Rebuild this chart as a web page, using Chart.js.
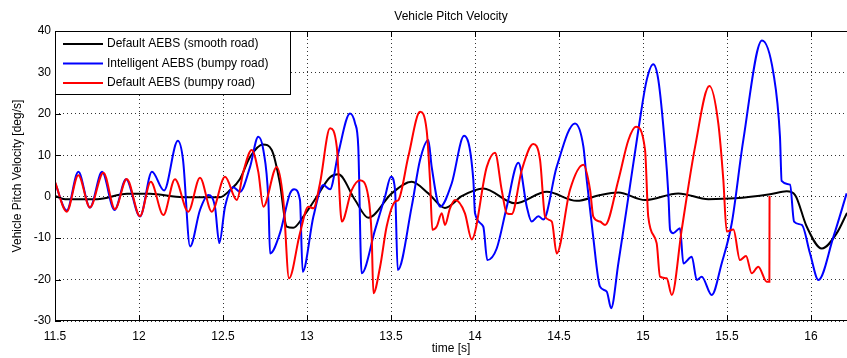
<!DOCTYPE html>
<html>
<head>
<meta charset="utf-8">
<script src="https://cdn.jsdelivr.net/npm/chart.js@4.4.0/dist/chart.umd.min.js"></script>
<style>
  html, body { margin: 0; padding: 0; background: #fff; }
  #wrap { width: 847px; height: 358px; position: relative; }
</style>
</head>
<body>
<div id="wrap"><canvas id="c" width="847" height="358"></canvas></div>
<script>
// Axis ticks
const xTicks = [11.5, 12, 12.5, 13, 13.5, 14, 14.5, 15, 15.5, 16];
const xTickLabels = ['11.5', '12', '12.5', '13', '13.5', '14', '14.5', '15', '15.5', '16'];
const yTicks = [-30, -20, -10, 0, 10, 20, 30, 40];
const yTickLabels = ['-30', '-20', '-10', '0', '10', '20', '30', '40'];

const seriesNames = ['Default AEBS (smooth road)', 'Intelligent AEBS (bumpy road)', 'Default AEBS (bumpy road)'];

// Default AEBS, smooth road: time [s] and pitch velocity [deg/s]
const smoothTime = [11.5, 11.56, 11.75, 11.929, 12.065, 12.262, 12.482, 12.542, 12.601, 12.661, 12.738, 12.79, 12.839, 12.879, 12.918, 12.978, 13.058, 13.137, 13.186, 13.286, 13.365, 13.504, 13.623, 13.722, 13.821, 13.923, 14.049, 14.238, 14.427, 14.605, 14.744, 14.853, 15.012, 15.21, 15.389, 15.548, 15.756, 15.855, 15.905, 15.974, 16.064, 16.153, 16.214];
const smoothRate = [0.2, -0.6, -0.6, 0.7, 0.7, -0.1, -0.1, 1.6, 4.3, 9.6, 12.6, 11.3, 3.2, -7.2, -7.5, -4.8, 0, 4.7, 5.4, -0.8, -5.1, 0.8, 3.6, 0.8, -2.7, 0.2, 2.0, -1.6, 1.2, -1.0, 0.4, 1.0, -0.8, 0.8, -0.6, -0.4, 0.6, 1.3, 0.4, -7.2, -12.5, -8.8, -3.9];

// Intelligent AEBS, bumpy road
const intelTime = [11.5, 11.57, 11.639, 11.708, 11.78, 11.854, 11.923, 12.006, 12.077, 12.149, 12.231, 12.262, 12.304, 12.363, 12.413, 12.452, 12.478, 12.512, 12.561, 12.601, 12.661, 12.71, 12.74, 12.77, 12.78, 12.839, 12.899, 12.923, 12.958, 12.974, 13.038, 13.097, 13.137, 13.186, 13.256, 13.286, 13.305, 13.325, 13.405, 13.464, 13.5, 13.524, 13.54, 13.623, 13.673, 13.722, 13.742, 13.792, 13.861, 13.935, 13.99, 14.0, 14.049, 14.073, 14.129, 14.189, 14.258, 14.308, 14.337, 14.377, 14.407, 14.486, 14.595, 14.645, 14.665, 14.702, 14.744, 14.784, 14.81, 14.853, 14.913, 14.972, 15.022, 15.061, 15.091, 15.131, 15.151, 15.161, 15.18, 15.22, 15.24, 15.29, 15.32, 15.349, 15.409, 15.468, 15.528, 15.597, 15.708, 15.776, 15.815, 15.825, 15.875, 15.899, 15.945, 15.994, 16.044, 16.133, 16.212];
const intelRate = [3.4, -3.3, 6.0, -2.6, 6.0, -3.2, 4.2, -4.8, 6.0, 1.5, 13.5, 8.9, -12.0, -3.2, 0.4, -2.4, -11.2, -2.4, 2.3, 1.2, 7.2, 14.5, 11.3, -0.8, -13.7, -8.8, 0.8, 1.8, -0.8, -18.1, -4.8, 2.8, 1.8, 10.5, 20.1, 17.7, 12.1, -18.5, -8.0, 0, 4.8, 1.6, -17.7, -2.4, 8.9, 13.7, 7.2, -2.4, 3.2, 14.7, 4.0, -4.0, -7.2, -15.3, -12.5, -2.4, 8.2, -2.4, -6.0, -4.7, -5.5, 7.2, 17.7, 12.1, 4.0, -9.2, -21.7, -22.9, -26.9, -16.1, 0, 16.1, 28.2, 32.0, 28.2, 12.1, 0.4, -8.0, -8.8, -7.6, -16.1, -14.5, -20.1, -19.3, -23.7, -16.1, -6.4, 13.7, 37.7, 29.8, 14.5, 3.8, 2.9, -6.0, -6.8, -13.7, -20.1, -9.7, 0.8];

// Default AEBS, bumpy road
const bumpyTime = [11.5, 11.57, 11.639, 11.708, 11.788, 11.857, 11.927, 12.006, 12.07, 12.145, 12.214, 12.293, 12.363, 12.433, 12.512, 12.582, 12.621, 12.671, 12.71, 12.74, 12.82, 12.859, 12.893, 12.958, 13.008, 13.038, 13.077, 13.137, 13.177, 13.207, 13.266, 13.315, 13.365, 13.385, 13.395, 13.435, 13.474, 13.524, 13.544, 13.603, 13.673, 13.712, 13.732, 13.746, 13.772, 13.802, 13.821, 13.851, 13.881, 13.94, 13.98, 14.07, 14.119, 14.159, 14.189, 14.218, 14.278, 14.347, 14.387, 14.417, 14.457, 14.486, 14.565, 14.645, 14.685, 14.704, 14.744, 14.774, 14.853, 14.913, 14.958, 15.012, 15.031, 15.081, 15.101, 15.141, 15.171, 15.23, 15.31, 15.395, 15.448, 15.478, 15.498, 15.538, 15.577, 15.613, 15.647, 15.686, 15.736, 15.752, 15.753];
const bumpyRate = [3.6, -3.6, 5.2, -2.6, 5.8, -3.0, 4.3, -4.7, 3.6, -4.4, 4.2, -3.6, 4.6, -3.6, 4.8, -0.8, 6.0, 11.3, 6.0, -2.4, 7.2, -0.8, -19.7, -8.8, -2.4, -2.8, 3.2, 16.5, 12.1, -6.0, 1.6, 4.0, 0, -9.7, -23.3, -16.9, -7.2, -1.2, -0.8, 9.7, 20.5, 16.1, 4.0, -8.0, -7.2, -4.0, -6.8, -2.8, -0.8, -4.0, -10.3, 7.2, 10.6, 1.6, -4.0, -4.2, 6.4, 12.7, 8.9, -4.8, -6.0, -13.7, 1.6, 7.7, 1.6, -4.8, -6.0, -6.8, 4.0, 13.7, 16.9, 11.3, -4.8, -11.2, -19.3, -19.7, -23.7, -8.0, 12.1, 26.7, 17.7, 4.0, -8.4, -7.9, -15.3, -14.3, -18.5, -16.9, -20.5, -20.5, 0.2];

const FONT = '"Liberation Sans", Arial, Helvetica, sans-serif';
const zip = (xs, ys) => xs.map((x, i) => ({ x: x, y: ys[i] }));

const lineStyle = {
  pointRadius: 0,
  pointHoverRadius: 0,
  borderWidth: 2,
  fill: false,
  cubicInterpolationMode: 'monotone'
};

// Boxed legend in the top-left corner, plot title and the axes frame with inward ticks
const framePlugin = {
  id: 'frameAndLegend',
  afterDraw(chart) {
    const { ctx, chartArea: a, scales } = chart;
    ctx.save();

    // frame
    ctx.strokeStyle = '#000';
    ctx.lineWidth = 1;
    ctx.strokeRect(a.left + 0.5, a.top + 0.5, a.right - a.left, a.bottom - a.top - 1);

    // inward tick marks
    ctx.beginPath();
    xTicks.forEach(v => {
      const px = Math.round(scales.x.getPixelForValue(v)) + 0.5;
      ctx.moveTo(px, a.bottom); ctx.lineTo(px, a.bottom - 6);
      ctx.moveTo(px, a.top); ctx.lineTo(px, a.top + 6);
    });
    yTicks.forEach(v => {
      const py = Math.round(scales.y.getPixelForValue(v)) + 0.5;
      ctx.moveTo(a.left, py); ctx.lineTo(a.left + 6, py);
    });
    ctx.stroke();

    // title
    ctx.fillStyle = '#000';
    ctx.font = '12px ' + FONT;
    ctx.textAlign = 'center';
    ctx.textBaseline = 'middle';
    ctx.fillText('Vehicle Pitch Velocity', (a.left + a.right) / 2, 17);

    // legend
    const lx = a.left + 0.5, ly = a.top + 0.5, lw = 235, lh = 63;
    ctx.fillStyle = '#fff';
    ctx.fillRect(lx, ly, lw, lh);
    ctx.strokeStyle = '#000';
    ctx.strokeRect(lx, ly, lw, lh);
    ctx.textAlign = 'left';
    chart.data.datasets.forEach((ds, i) => {
      const y = a.top + 13 + i * 19.5;
      ctx.strokeStyle = ds.borderColor;
      ctx.lineWidth = 2;
      ctx.beginPath();
      ctx.moveTo(a.left + 8, y); ctx.lineTo(a.left + 48, y);
      ctx.stroke();
      ctx.fillStyle = '#000';
      ctx.fillText(ds.label, a.left + 52, y);
    });
    ctx.restore();
  }
};

const tickLabel = (ticks, labels) => (value) => {
  const i = ticks.findIndex(t => Math.abs(t - value) < 1e-9);
  return i >= 0 ? labels[i] : '';
};

new Chart(document.getElementById('c'), {
  type: 'line',
  data: {
    datasets: [
      Object.assign({ label: seriesNames[0], data: zip(smoothTime, smoothRate), borderColor: '#000000', order: 2 }, lineStyle),
      Object.assign({ label: seriesNames[1], data: zip(intelTime, intelRate), borderColor: '#0000ff', order: 1 }, lineStyle),
      Object.assign({ label: seriesNames[2], data: zip(bumpyTime, bumpyRate), borderColor: '#ff0000', order: 0 }, lineStyle)
    ]
  },
  options: {
    responsive: false,
    animation: false,
    devicePixelRatio: 1,
    layout: { padding: { top: 31, right: 0, bottom: 0, left: 0 } },
    plugins: { legend: { display: false }, title: { display: false }, tooltip: { enabled: false } },
    scales: {
      x: {
        type: 'linear',
        min: 11.5,
        max: 16.214,
        afterBuildTicks: s => { s.ticks = xTicks.map(v => ({ value: v })); },
        afterFit: s => { s.height = 37; },
        grid: { color: '#333', lineWidth: 1, drawTicks: false },
        border: { display: false, dash: [1, 3] },
        ticks: { callback: tickLabel(xTicks, xTickLabels), color: '#000', font: { family: FONT, size: 12 }, padding: 8, maxRotation: 0, autoSkip: false },
        title: { display: true, text: 'time [s]', color: '#000', font: { family: FONT, size: 12 }, padding: { top: 0, bottom: 2 } }
      },
      y: {
        type: 'linear',
        min: -30,
        max: 40,
        afterBuildTicks: s => { s.ticks = yTicks.map(v => ({ value: v })); },
        afterFit: s => { s.width = 55; },
        grid: { color: '#333', lineWidth: 1, drawTicks: false },
        border: { display: false, dash: [1, 3] },
        ticks: { callback: tickLabel(yTicks, yTickLabels), color: '#000', font: { family: FONT, size: 12 }, padding: 4, autoSkip: false },
        title: { display: true, text: 'Vehicle Pitch Velocity [deg/s]', color: '#000', font: { family: FONT, size: 12 }, padding: { top: 10, bottom: 0 } }
      }
    }
  },
  plugins: [framePlugin]
});
</script>
</body>
</html>
